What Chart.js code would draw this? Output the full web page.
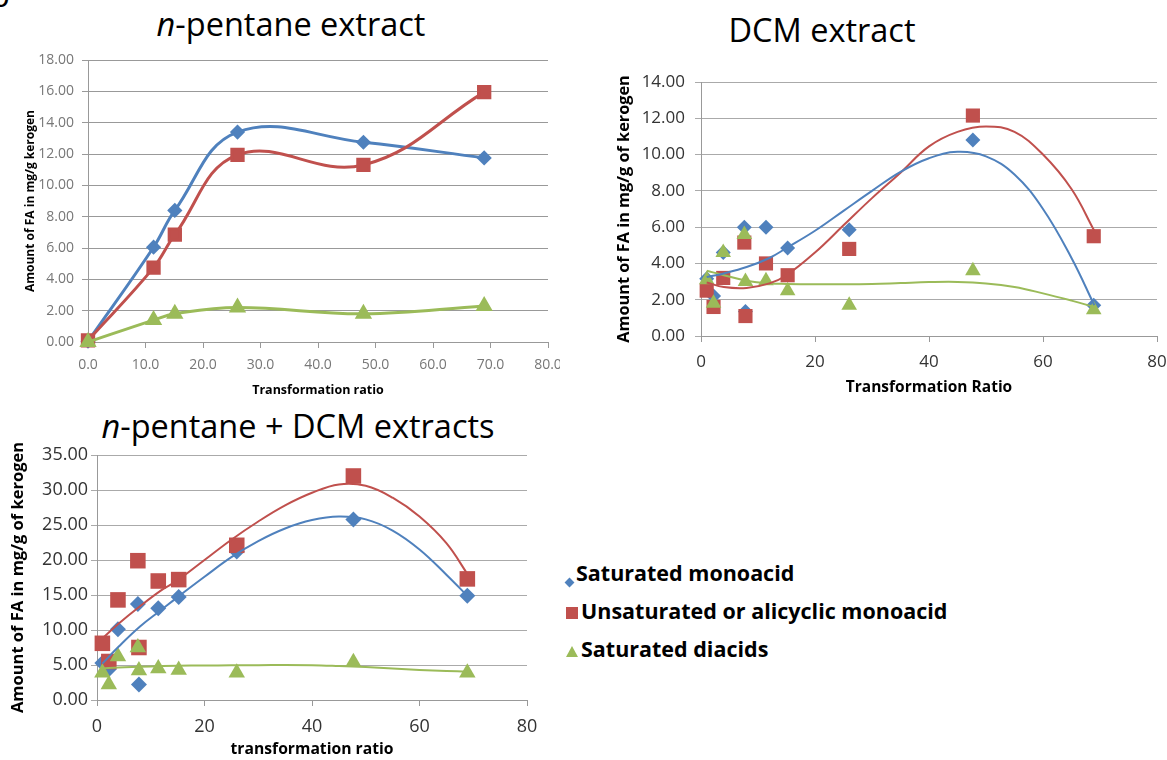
<!DOCTYPE html>
<html>
<head>
    <title>Fatty acids vs transformation ratio</title>
    <script src="https://cdn.jsdelivr.net/npm/chart.js"></script>
    <style>
        body { margin: 0; background: #fff; font-family: 'Open Sans', sans-serif; }
        #page { position: relative; width: 1167px; height: 760px; overflow: hidden; }
        .box { position: absolute; }
        .title { position: absolute; font-size: 32.5px; color: #000; white-space: nowrap; text-align: center; }
        .legend { position: absolute; left: 566px; top: 554px; font-weight: bold; font-size: 21.5px; color: #000; }
        .legend div { height: 38px; line-height: 38px; white-space: nowrap; }
        .mk { display: inline-block; margin-right: 3px; vertical-align: middle; }
    </style>
</head>
<body>
<div id="page">
    <div class="title" style="left:-10px; top:-28px; width:40px; text-align:left;">p</div>
    <div class="title" style="left:0; top:1px; width:582px;"><i>n</i>-pentane extract</div>
    <div class="title" style="left:622px; top:7px; width:400px;">DCM extract</div>
    <div class="title" style="left:0; top:403px; width:596px;"><i>n</i>-pentane + DCM extracts</div>

    <div class="box" style="left:0; top:45px;"><canvas id="chart1" width="560" height="360"></canvas></div>
    <div class="box" style="left:590px; top:60px;"><canvas id="chart2" width="577" height="345"></canvas></div>
    <div class="box" style="left:0; top:440px;"><canvas id="chart3" width="545" height="320"></canvas></div>

    <div class="legend">
        <div><span class="mk" style="width:7px;height:7px;background:#4F81BD;transform:rotate(45deg);margin-top:14px;"></span>Saturated monoacid</div>
        <div><span class="mk" style="width:12px;height:12px;background:#C0504D;"></span>Unsaturated or alicyclic monoacid</div>
        <div><span class="mk" style="width:0;height:0;border-left:6px solid transparent;border-right:6px solid transparent;border-bottom:11px solid #9BBB59;"></span>Saturated diacids</div>
    </div>
</div>

<script>
    // n-pentane extract (smoothed lines through the points)
    var trPentane = [0, 11.4, 15.1, 26.0, 47.9, 68.9];
    var pentaneSat = [0.05, 6.05, 8.4, 13.4, 12.75, 11.75];
    var pentaneUnsat = [0.1, 4.75, 6.85, 11.95, 11.3, 15.95];
    var pentaneDiacid = [0, 1.4, 1.8, 2.2, 1.8, 2.3];

    // DCM extract and n-pentane + DCM extracts share the same samples
    var trDcm = [1.0, 2.2, 3.9, 7.6, 7.8, 11.4, 15.2, 26.0, 47.7, 68.9];
    var dcmSat = [3.15, 2.2, 4.6, 6.0, 1.35, 6.0, 4.85, 5.85, 10.8, 1.7];
    var dcmUnsat = [2.5, 1.6, 3.2, 5.15, 1.1, 4.0, 3.35, 4.8, 12.15, 5.5];
    var dcmDiacid = [3.1, 1.8, 4.6, 5.6, 3.0, 3.05, 2.5, 1.7, 3.6, 1.45];

    var totalSat = [5.3, 4.4, 10.1, 13.7, 2.2, 13.1, 14.7, 21.2, 25.8, 14.9];
    var totalUnsat = [8.1, 5.5, 14.3, 19.9, 7.5, 17.0, 17.2, 22.1, 32.0, 17.3];
    var totalDiacid = [3.9, 2.2, 6.2, 7.5, 4.2, 4.5, 4.3, 3.9, 5.4, 3.9];

    // trendlines
    var trendX = [1, 4, 8, 12, 15, 20, 25, 30, 35, 40, 45, 50, 55, 60, 65, 69];
    var dcmSatTrend = [3.25, 3.45, 3.8, 4.3, 4.85, 5.8, 6.9, 8.0, 9.05, 9.8, 10.15, 9.9, 8.9, 7.0, 4.3, 1.7];
    var dcmUnsatTrend = [2.95, 2.7, 2.65, 2.9, 3.35, 4.6, 6.1, 7.6, 9.0, 10.45, 11.25, 11.55, 11.25, 10.0, 8.1, 5.8];
    var dcmDiacidTrend = [3.6, 3.35, 3.05, 2.9, 2.87, 2.85, 2.85, 2.87, 2.92, 2.97, 2.98, 2.9, 2.7, 2.35, 1.95, 1.6];

    var totalSatTrend = [5.2, 7.6, 10.5, 12.9, 14.7, 17.6, 20.4, 22.7, 24.5, 25.7, 26.2, 25.8, 24.2, 21.5, 17.9, 14.8];
    var totalUnsatTrend = [8.8, 10.9, 13.4, 15.7, 17.1, 20.0, 22.9, 25.5, 27.8, 29.6, 30.8, 30.6, 28.9, 26.2, 22.4, 17.9];
    var totalDiacidTrend = [4.5, 4.65, 4.75, 4.85, 4.9, 4.92, 4.95, 4.97, 5.0, 4.97, 4.85, 4.7, 4.5, 4.3, 4.15, 4.05];

    var BLUE = '#4F81BD', RED = '#C0504D', GREEN = '#9BBB59';

    Chart.defaults.font.family = "'Open Sans', sans-serif";

    function pts(xs, ys) {
        return xs.map(function (x, i) { return {x: x, y: ys[i]}; });
    }

    function pointSet(name, xs, ys, color, style, r, order) {
        return {
            label: name, data: pts(xs, ys), showLine: false, clip: false,
            pointStyle: style, pointRadius: r, pointHoverRadius: r,
            backgroundColor: color, borderColor: color, borderWidth: 0, order: order
        };
    }

    function trendSet(xs, ys, color) {
        return {
            label: 'trend', data: pts(xs, ys), showLine: true, tension: 0.4,
            borderColor: color, borderWidth: 2, pointRadius: 0, fill: false, order: 0
        };
    }

    // s: sizes for axes so the plot area lands where it is in the figure
    function axes(s) {
        return {
            x: {
                type: 'linear', min: 0, max: 80,
                ticks: { stepSize: s.xStep, padding: s.xPad, color: s.tickColor, font: {size: s.tickSize},
                    maxRotation: 0, autoSkip: false,
                    callback: function (v) { return s.xFixed ? v.toFixed(1) : v; } },
                grid: { drawOnChartArea: false, tickLength: 6, color: s.axisColor },
                border: { color: s.axisColor },
                title: { display: true, text: s.xTitle, color: '#000',
                    font: {size: s.titleSize, weight: 'bold'}, padding: {top: 0, bottom: s.xTitlePad} },
                afterFit: function (scale) { scale.height = s.xHeight; scale.paddingLeft = 0; scale.paddingRight = 0; }
            },
            y: {
                min: 0, max: s.yMax,
                ticks: { stepSize: s.yStep, padding: s.yPad, color: s.tickColor, font: {size: s.tickSize},
                    callback: function (v) { return v.toFixed(2); } },
                grid: { color: s.gridColor, tickLength: 6 },
                border: { color: s.axisColor },
                title: { display: true, text: s.yTitle, color: '#000',
                    font: {size: s.yTitleSize, weight: 'bold'}, padding: {top: s.yTitlePad, bottom: 0} },
                afterFit: function (scale) { scale.width = s.yWidth; scale.paddingTop = 0; scale.paddingBottom = 0; }
            }
        };
    }

    function baseOptions(pad, scales) {
        return {
            responsive: false, animation: false,
            layout: { padding: pad },
            plugins: { legend: { display: false }, tooltip: { enabled: false } },
            scales: scales
        };
    }

    // n-pentane extract
    var c1sets = [
        pointSet('Saturated diacids', trPentane, pentaneDiacid, GREEN, 'triangle', 7, 1),
        pointSet('Unsaturated or alicyclic monoacid', trPentane, pentaneUnsat, RED, 'rect', 8, 2),
        pointSet('Saturated monoacid', trPentane, pentaneSat, BLUE, 'rectRot', 5.5, 3)
    ];
    c1sets.forEach(function (d) { d.showLine = true; d.tension = 0.4; d.borderWidth = 3; d.fill = false; });
    new Chart(document.getElementById('chart1'), {
        type: 'scatter',
        data: { datasets: c1sets },
        options: baseOptions({top: 15, right: 12, left: 0, bottom: 0}, axes({
            xStep: 10, xFixed: true, xPad: 9, yMax: 18, yStep: 2, yPad: 8,
            tickColor: '#777', tickSize: 14, axisColor: '#999', gridColor: '#999',
            xTitle: 'Transformation ratio', titleSize: 12.5, xTitlePad: 7,
            yTitle: 'Amount of FA in mg/g kerogen', yTitleSize: 12, yTitlePad: 23,
            xHeight: 63, yWidth: 88
        }))
    });

    // DCM extract
    new Chart(document.getElementById('chart2'), {
        type: 'scatter',
        data: { datasets: [
            trendSet(trendX, dcmSatTrend, BLUE),
            trendSet(trendX, dcmUnsatTrend, RED),
            trendSet(trendX, dcmDiacidTrend, GREEN),
            pointSet('Saturated diacids', trDcm, dcmDiacid, GREEN, 'triangle', 9, 1),
            pointSet('Unsaturated or alicyclic monoacid', trDcm, dcmUnsat, RED, 'rect', 10, 2),
            pointSet('Saturated monoacid', trDcm, dcmSat, BLUE, 'rectRot', 7.5, 3)
        ] },
        options: baseOptions({top: 22, right: 8, left: 0, bottom: 0}, axes({
            xStep: 20, xFixed: false, xPad: 10, yMax: 14, yStep: 2, yPad: 10,
            tickColor: '#333', tickSize: 17, axisColor: '#999', gridColor: '#aaa',
            xTitle: 'Transformation Ratio', titleSize: 15.5, xTitlePad: 8,
            yTitle: 'Amount of FA in mg/g of kerogen', yTitleSize: 16.3, yTitlePad: 25,
            xHeight: 69, yWidth: 111
        }))
    });

    // n-pentane + DCM extracts
    new Chart(document.getElementById('chart3'), {
        type: 'scatter',
        data: { datasets: [
            trendSet(trendX, totalSatTrend, BLUE),
            trendSet(trendX, totalUnsatTrend, RED),
            trendSet(trendX, totalDiacidTrend, GREEN),
            pointSet('Saturated diacids', trDcm, totalDiacid, GREEN, 'triangle', 9.5, 1),
            pointSet('Unsaturated or alicyclic monoacid', trDcm, totalUnsat, RED, 'rect', 11, 2),
            pointSet('Saturated monoacid', trDcm, totalSat, BLUE, 'rectRot', 8, 3)
        ] },
        options: baseOptions({top: 15, right: 18, left: 0, bottom: 0}, axes({
            xStep: 20, xFixed: false, xPad: 10, yMax: 35, yStep: 5, yPad: 3,
            tickColor: '#333', tickSize: 18, axisColor: '#999', gridColor: '#aaa',
            xTitle: 'transformation ratio', titleSize: 15.7, xTitlePad: 1,
            yTitle: 'Amount of FA in mg/g of kerogen', yTitleSize: 16.5, yTitlePad: 8,
            xHeight: 60, yWidth: 97
        }))
    });
</script>
</body>
</html>
